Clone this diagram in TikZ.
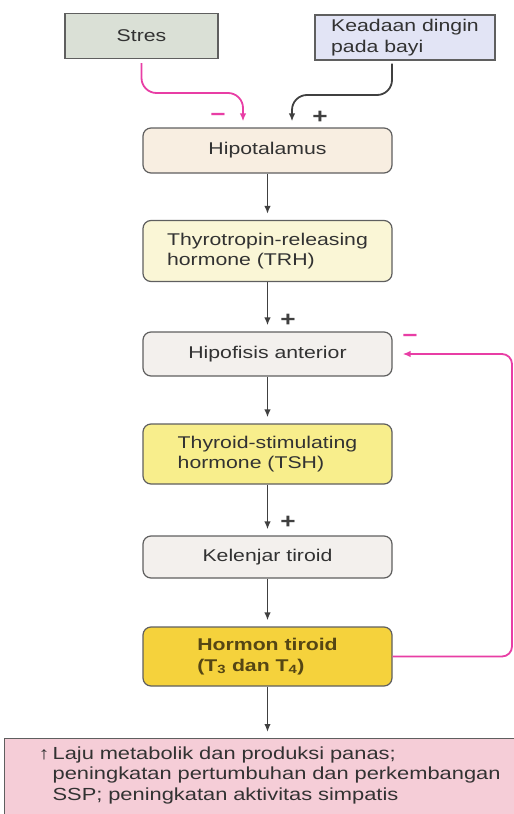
\documentclass[tikz,border=0pt]{standalone}
\usepackage{fontspec}
\setmainfont[FakeStretch=1.25]{Liberation Sans}
\usetikzlibrary{arrows.meta}
\definecolor{stresfill}{RGB}{218,224,214}
\definecolor{coldfill}{RGB}{226,228,245}
\definecolor{hipofill}{RGB}{248,238,225}
\definecolor{trhfill}{RGB}{250,246,214}
\definecolor{grayfill}{RGB}{243,240,237}
\definecolor{tshfill}{RGB}{248,238,140}
\definecolor{hormonfill}{RGB}{245,210,60}
\definecolor{effectfill}{RGB}{245,205,215}
\definecolor{fbpink}{RGB}{232,62,165}
\definecolor{boxline}{RGB}{95,95,95}
\definecolor{txt}{RGB}{50,50,50}

\begin{document}
\begin{tikzpicture}[x=1pt, y=-1pt,
  mybox/.style={draw=boxline, line width=1.2pt, text=txt, align=left,
    font=\fontsize{17}{20.5}\selectfont, inner sep=0pt},
  mystep/.style={mybox, rounded corners=8pt, minimum width=249pt},
  myarrow/.style={draw=black!75, line width=1.8pt,
    -{Latex[length=8pt,width=6.5pt]}, shorten >=6pt},
  pinkarrow/.style={myarrow, draw=fbpink},
  mysign/.style={font=\fontsize{21}{21}\selectfont\bfseries}]
\useasboundingbox (0,0) rectangle (514,814);

%stimuli
  \node[mybox, fill=stresfill, minimum width=153pt, minimum height=45pt] (stres) at (141.5,36) {Stres};
  \node[mybox, fill=coldfill, minimum width=180pt, minimum height=45pt] (dingin) at (405,37.5) {Keadaan dingin\\pada bayi};

%chain
  \node[mystep, fill=hipofill, minimum height=45pt] (hipo) at (267.5,150.5) {Hipotalamus};
  \node[mystep, fill=trhfill, minimum height=61pt] (trh) at (267.5,251) {Thyrotropin-releasing\\hormone (TRH)};
  \node[mystep, fill=grayfill, minimum height=44pt] (hipofisis) at (267.5,354) {Hipofisis anterior};
  \node[mystep, fill=tshfill, minimum height=60pt] (tsh) at (267.5,454) {Thyroid-stimulating\\hormone (TSH)};
  \node[mystep, fill=grayfill, minimum height=42pt] (kelenjar) at (267.5,557) {Kelenjar tiroid};
  \node[mystep, fill=hormonfill, minimum height=59pt, text={rgb,255:red,85;green,70;blue,20},
    font=\fontsize{17}{20.5}\selectfont\bfseries] (hormon) at (267.5,656.5)
    {Hormon tiroid\\(T\textsubscript{3} dan T\textsubscript{4})};

%effect
  \node[mybox, fill=effectfill, anchor=north west, minimum width=520pt, minimum height=82pt,
    text width=468pt, inner xsep=48pt, font=\fontsize{17.5}{20.5}\selectfont] (effect) at (4,738)
    {\llap{↑\hspace{3pt}}Laju metabolik dan produksi panas;\\
     peningkatan pertumbuhan dan perkembangan\\
     SSP; peningkatan aktivitas simpatis\rule[-12pt]{0pt}{1pt}};

%bends
  \coordinate (sbend) at (243,93);
  \coordinate (dbend) at (292,95);
  \coordinate (fbbot) at (512,656.5);
  \coordinate (fbtop) at (512,354);

%connectors
  \draw[pinkarrow, rounded corners=15pt, shorten <=4pt] (stres.south) |- (sbend) -- ([xshift=-24.5pt]hipo.north);
  \draw[myarrow, rounded corners=15pt, shorten <=3pt] ([xshift=-13pt]dingin.south) |- (dbend) -- ([xshift=24.5pt]hipo.north);
  \draw[myarrow] (hipo) -- (trh);
  \draw[myarrow] (trh) -- (hipofisis);
  \draw[myarrow] (hipofisis) -- (tsh);
  \draw[myarrow] (tsh) -- (kelenjar);
  \draw[myarrow] (kelenjar) -- (hormon);
  \draw[myarrow] (hormon) -- (effect.north -| hormon);
  \draw[pinkarrow, rounded corners=10pt] (hormon.east) -- (fbbot) -- (fbtop) -- ([xshift=4pt]hipofisis.east);

%signs
  \node[mysign, text=fbpink] (s1) at (218,117) {−};
  \node[mysign, text=black!75] (s2) at (320,117) {+};
  \node[mysign, text=black!75] (s3) at (288,320) {+};
  \node[mysign, text=fbpink] (s4) at (410,338) {−};
  \node[mysign, text=black!75] (s5) at (288,522) {+};
\end{tikzpicture}
\end{document}
